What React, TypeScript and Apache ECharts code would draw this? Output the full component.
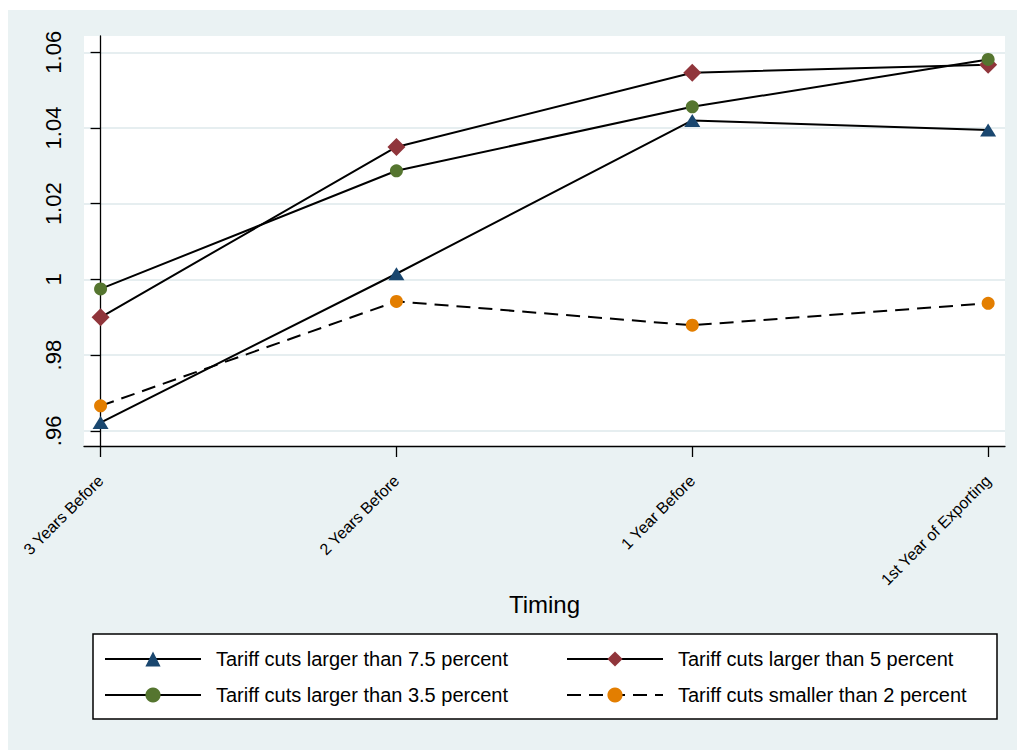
import React, { useEffect, useRef } from "react";
import * as echarts from "echarts";

const categories = ["3 Years Before", "2 Years Before", "1 Year Before", "1st Year of Exporting"];
const seriesNames = [
  "Tariff cuts larger than 7.5 percent",
  "Tariff cuts larger than 5 percent",
  "Tariff cuts larger than 3.5 percent",
  "Tariff cuts smaller than 2 percent",
];
const cuts75 = [0.9622, 1.0015, 1.042, 1.0395];
const cuts5 = [0.99, 1.035, 1.0546, 1.0567];
const cuts35 = [0.9975, 1.0287, 1.0456, 1.0581];
const cuts2 = [0.9666, 0.9942, 0.9879, 0.9937];
const yTickValues = [0.96, 0.98, 1, 1.02, 1.04, 1.06];
const yTickLabels = [".96", ".98", "1", "1.02", "1.04", "1.06"];
const xTickValues = [0, 1, 2, 3];

const FONT = "'Liberation Sans', Arial, Helvetica, sans-serif";

export default function App() {
  const ref = useRef<HTMLDivElement>(null);
  useEffect(() => {
    document.body.style.margin = "0";
    if (!ref.current) return;
    const chart = echarts.init(ref.current, undefined, { renderer: "svg" });
    const lineSeries = (name: string, vals: number[], symbol: string, size: any, color: string, dashed = false) => ({
      type: "line",
      name,
      data: vals.map((v, i) => [i, v]),
      symbol,
      symbolSize: size,
      itemStyle: { color, borderWidth: 0 },
      lineStyle: { color: "#000", width: 2, type: dashed ? [14, 8] : "solid" },
      emphasis: { disabled: true },
      silent: true,
    });
    const legendCommon = {
      orient: "vertical",
      padding: 0,
      itemWidth: 96,
      itemHeight: 19,
      itemGap: 14,
      selectedMode: false,
      textStyle: { fontFamily: FONT, fontSize: 20, color: "#000", lineHeight: 22, padding: [0, 0, 0, 10] },
      z: 10,
    };
    chart.setOption({
      animation: false,
      backgroundColor: "#ffffff",
      graphic: [
        { type: "rect", z: -100, shape: { x: 8, y: 10, width: 1009, height: 740 }, style: { fill: "#eaf2f3" } },
        { type: "rect", z: 1, shape: { x: 93, y: 634, width: 904, height: 85 }, style: { fill: "#ffffff", stroke: "#000", lineWidth: 1.5 } },
      ],
      grid: {
        left: 84,
        right: 12,
        top: 36,
        bottom: 304,
        show: true,
        backgroundColor: "#ffffff",
        borderWidth: 0,
      },
      legend: [
        { ...legendCommon, left: 104, top: 648, data: [seriesNames[0], seriesNames[2]] },
        { ...legendCommon, left: 566, top: 648, data: [seriesNames[1], seriesNames[3]] },
      ],
      xAxis: {
        type: "value",
        min: -0.056,
        max: 3.057,
        name: "Timing",
        nameLocation: "middle",
        nameGap: 146,
        nameMoveOverlap: false,
        nameTextStyle: { fontFamily: FONT, fontSize: 24, color: "#000" },
        axisLine: { show: true, lineStyle: { color: "#000", width: 1.3 } },
        axisTick: { show: true, length: 11, customValues: xTickValues, lineStyle: { color: "#000", width: 1.3 } },
        axisLabel: {
          customValues: xTickValues,
          rotate: 45,
          margin: 32,
          fontFamily: FONT,
          fontSize: 16,
          color: "#000",
          formatter: (v: number) => categories[Math.round(v)] ?? "",
        },
        splitLine: { show: false },
      },
      yAxis: {
        type: "value",
        min: 0.956,
        max: 1.0643,
        axisLine: { show: true, lineStyle: { color: "#000", width: 1.3 } },
        axisTick: { show: true, length: 10, customValues: yTickValues, lineStyle: { color: "#000", width: 1.3 } },
        axisLabel: {
          customValues: yTickValues,
          rotate: 90,
          margin: 20,
          fontFamily: FONT,
          fontSize: 22,
          color: "#000",
          formatter: (v: number) => {
            const i = yTickValues.findIndex((t) => Math.abs(t - v) < 1e-9);
            return i >= 0 ? yTickLabels[i] : "";
          },
        },
        splitLine: { show: true, lineStyle: { color: "#e6eef0", width: 2 } },
      },
      series: [
        lineSeries(seriesNames[0], cuts75, "triangle", [16, 13], "#1a476f"),
        lineSeries(seriesNames[1], cuts5, "diamond", [18, 18], "#90353b"),
        lineSeries(seriesNames[2], cuts35, "circle", 13, "#55752f"),
        lineSeries(seriesNames[3], cuts2, "circle", 13, "#e37e00", true),
      ],
    });
    return () => chart.dispose();
  }, []);
  return <div ref={ref} style={{ width: 1017, height: 750 }} />;
}
